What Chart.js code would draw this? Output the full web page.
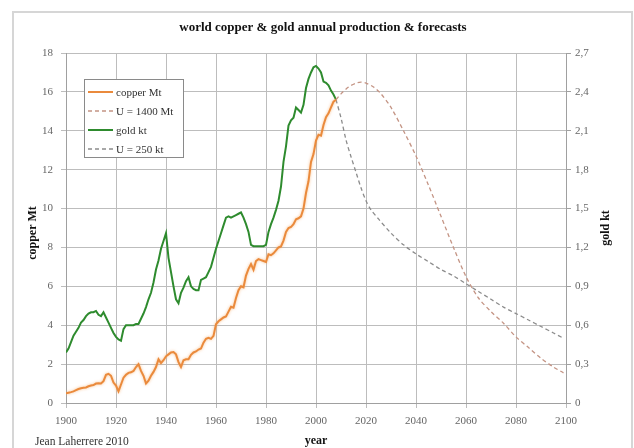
<!DOCTYPE html>
<html>
<head>
<meta charset="utf-8">
<script src="https://cdn.jsdelivr.net/npm/chart.js@4/dist/chart.umd.min.js"></script>
<style>
  html, body { margin: 0; padding: 0; background: #ffffff; }
  #wrap { width: 634px; height: 448px; position: relative; }
</style>
</head>
<body>
<div id="wrap"><canvas id="c" width="634" height="448"></canvas></div>
<script>
// Historical years (annual)
const years = [
  1900,1901,1902,1903,1904,1905,1906,1907,1908,1909,
  1910,1911,1912,1913,1914,1915,1916,1917,1918,1919,
  1920,1921,1922,1923,1924,1925,1926,1927,1928,1929,
  1930,1931,1932,1933,1934,1935,1936,1937,1938,1939,
  1940,1941,1942,1943,1944,1945,1946,1947,1948,1949,
  1950,1951,1952,1953,1954,1955,1956,1957,1958,1959,
  1960,1961,1962,1963,1964,1965,1966,1967,1968,1969,
  1970,1971,1972,1973,1974,1975,1976,1977,1978,1979,
  1980,1981,1982,1983,1984,1985,1986,1987,1988,1989,
  1990,1991,1992,1993,1994,1995,1996,1997,1998,1999,
  2000,2001,2002,2003,2004,2005,2006,2007,2008
];

// World copper mine production, Mt
const copperMt = [
  0.50,0.53,0.56,0.60,0.66,0.72,0.76,0.78,0.80,0.86,
  0.90,0.92,1.00,1.02,1.00,1.12,1.45,1.50,1.40,1.05,
  0.90,0.60,0.95,1.30,1.45,1.55,1.58,1.65,1.85,2.00,
  1.65,1.40,1.00,1.15,1.40,1.60,1.85,2.25,2.05,2.20,
  2.40,2.50,2.60,2.62,2.50,2.10,1.85,2.20,2.25,2.25,
  2.48,2.60,2.65,2.75,2.80,3.10,3.30,3.35,3.30,3.45,
  4.05,4.20,4.30,4.40,4.45,4.70,4.95,4.90,5.40,5.80,
  6.00,5.95,6.55,6.90,7.15,6.85,7.30,7.40,7.35,7.30,
  7.25,7.65,7.60,7.70,7.85,8.00,8.05,8.35,8.80,9.00,
  9.05,9.20,9.45,9.50,9.60,10.00,10.80,11.40,12.40,12.80,
  13.50,13.80,13.75,14.30,14.70,14.90,15.20,15.50,15.60
];

// World gold mine production, kt
const goldKt = [
  0.39,0.42,0.47,0.52,0.55,0.58,0.62,0.64,0.67,0.69,
  0.70,0.70,0.71,0.68,0.67,0.70,0.66,0.62,0.58,0.54,
  0.51,0.49,0.48,0.57,0.60,0.60,0.60,0.60,0.61,0.61,
  0.65,0.69,0.74,0.80,0.85,0.93,1.03,1.10,1.19,1.25,
  1.31,1.12,1.01,0.90,0.80,0.77,0.85,0.89,0.94,0.97,
  0.90,0.88,0.87,0.87,0.95,0.96,0.97,1.01,1.05,1.12,
  1.19,1.25,1.31,1.37,1.43,1.44,1.43,1.44,1.45,1.46,
  1.47,1.43,1.38,1.32,1.22,1.21,1.21,1.21,1.21,1.21,
  1.22,1.32,1.38,1.43,1.49,1.56,1.67,1.86,1.98,2.14,
  2.18,2.20,2.28,2.26,2.24,2.30,2.43,2.50,2.55,2.59,
  2.60,2.58,2.55,2.48,2.47,2.45,2.41,2.38,2.34
];

// Copper forecast, ultimate 1400 Mt
const copperForecastYears = [2008,2010,2013,2016,2018,2020,2023,2026,2030,2035,2040,2045,2050,2055,2060,2065,2070,2075,2080,2085,2090,2095,2099];
const copperForecastMt   = [15.6,15.9,16.25,16.45,16.5,16.45,16.25,15.9,15.2,14.0,12.7,11.2,9.6,8.0,6.5,5.4,4.7,4.1,3.4,2.85,2.3,1.85,1.55];

// Gold forecast, ultimate 250 kt
const goldForecastYears = [2008,2010,2012,2014,2016,2018,2020,2022,2025,2030,2035,2040,2045,2050,2055,2060,2065,2070,2075,2080,2085,2090,2095,2099];
const goldForecastKt   = [2.34,2.20,2.03,1.90,1.78,1.66,1.56,1.49,1.42,1.31,1.22,1.15,1.09,1.03,0.98,0.92,0.86,0.80,0.74,0.69,0.64,0.59,0.54,0.50];

// Axis tick labels
const yearTicks = ['1900','1920','1940','1960','1980','2000','2020','2040','2060','2080','2100'];
const copperTicks = ['0','2','4','6','8','10','12','14','16','18'];
const goldTicks = ['0','0,3','0,6','0,9','1,2','1,5','1,8','2,1','2,4','2,7'];

const SERIF = '"Liberation Serif", "Times New Roman", Times, serif';

function pts(xs, ys) { return xs.map((x, i) => ({ x: x, y: ys[i] })); }

// Frame, title, axis titles and credit line
const decorations = {
  id: 'decorations',
  beforeDraw(chart) {
    const ctx = chart.ctx;
    ctx.save();
    ctx.fillStyle = '#ffffff';
    ctx.fillRect(0, 0, chart.width, chart.height);
    ctx.strokeStyle = '#d6d6d6';
    ctx.lineWidth = 2;
    ctx.strokeRect(13, 12, 619, 460);
    ctx.restore();
  },
  afterDraw(chart) {
    const ctx = chart.ctx;
    ctx.save();
    ctx.fillStyle = '#111';
    ctx.textAlign = 'center';
    ctx.textBaseline = 'middle';
    ctx.font = 'bold 13px ' + SERIF;
    ctx.fillText('world copper & gold annual production & forecasts', 323, 28);

    ctx.font = 'bold 12px ' + SERIF;
    ctx.fillText('year', 316, 441);

    ctx.save();
    ctx.translate(33, 233);
    ctx.rotate(-Math.PI / 2);
    ctx.fillText('copper Mt', 0, 0);
    ctx.restore();

    ctx.save();
    ctx.translate(606, 228);
    ctx.rotate(-Math.PI / 2);
    ctx.fillText('gold kt', 0, 0);
    ctx.restore();

    ctx.font = '11.5px ' + SERIF;
    ctx.fillStyle = '#333';
    ctx.textAlign = 'left';
    ctx.fillText('Jean Laherrere 2010', 35, 442);
    ctx.restore();
  }
};

// Soft halo under the copper history line
const copperGlow = {
  id: 'copperGlow',
  beforeDatasetDraw(chart, args) {
    if (args.index === 0) {
      chart.ctx.save();
      chart.ctx.shadowColor = 'rgba(245,170,100,0.75)';
      chart.ctx.shadowBlur = 3;
    }
  },
  afterDatasetDraw(chart, args) {
    if (args.index === 0) chart.ctx.restore();
  }
};

// Boxed legend inside the plot
const boxLegend = {
  id: 'boxLegend',
  afterDatasetsDraw(chart) {
    const ctx = chart.ctx;
    const x0 = 84, y0 = 79, w = 99, h = 78;
    ctx.save();
    ctx.fillStyle = '#ffffff';
    ctx.fillRect(x0, y0, w, h);
    ctx.strokeStyle = '#8a8a8a';
    ctx.lineWidth = 1;
    ctx.strokeRect(x0 + 0.5, y0 + 0.5, w, h);
    ctx.font = '11px ' + SERIF;
    ctx.textBaseline = 'middle';
    ctx.textAlign = 'left';
    chart.data.datasets.forEach((ds, i) => {
      const y = y0 + 13 + i * 19;
      ctx.save();
      ctx.strokeStyle = ds.borderColor;
      ctx.lineWidth = ds.borderWidth;
      ctx.setLineDash(ds.borderDash || []);
      ctx.beginPath();
      ctx.moveTo(x0 + 4, y);
      ctx.lineTo(x0 + 29, y);
      ctx.stroke();
      ctx.restore();
      ctx.fillStyle = '#333';
      ctx.fillText(ds.label, x0 + 32, y + 1);
    });
    ctx.restore();
  }
};

new Chart(document.getElementById('c'), {
  type: 'line',
  data: {
    datasets: [
      { label: 'copper Mt', data: pts(years, copperMt), yAxisID: 'y',
        borderColor: '#ea8a3c', borderWidth: 2, pointRadius: 0, tension: 0 },
      { label: 'U = 1400 Mt', data: pts(copperForecastYears, copperForecastMt), yAxisID: 'y',
        borderColor: '#c49484', borderWidth: 1.3, borderDash: [4, 3], pointRadius: 0, tension: 0.3 },
      { label: 'gold kt', data: pts(years, goldKt), yAxisID: 'y1',
        borderColor: '#2e8b2e', borderWidth: 2, pointRadius: 0, tension: 0 },
      { label: 'U = 250 kt', data: pts(goldForecastYears, goldForecastKt), yAxisID: 'y1',
        borderColor: '#8c8c8c', borderWidth: 1.3, borderDash: [4, 3], pointRadius: 0, tension: 0.3 }
    ]
  },
  options: {
    responsive: false,
    animation: false,
    devicePixelRatio: 1,
    layout: { padding: { top: 53, left: 0, right: 0, bottom: 0 } },
    plugins: { legend: { display: false }, tooltip: { enabled: false }, title: { display: false } },
    scales: {
      x: {
        type: 'linear', min: 1900, max: 2100,
        afterFit(s) { s.height = 45; },
        afterBuildTicks(s) { s.ticks = yearTicks.map(t => ({ value: Number(t) })); },
        ticks: { callback: (v, i) => yearTicks[i], color: '#666', font: { family: SERIF, size: 11 }, padding: 7, maxRotation: 0 },
        grid: { color: '#bdbdbd', lineWidth: 1, tickLength: 5 },
        border: { color: '#a0a0a0' }
      },
      y: {
        position: 'left', min: 0, max: 18,
        afterFit(s) { s.width = 66; },
        afterBuildTicks(s) { s.ticks = copperTicks.map(t => ({ value: Number(t) })); },
        ticks: { callback: (v, i) => copperTicks[i], color: '#666', font: { family: SERIF, size: 11 }, padding: 8 },
        grid: { color: '#bdbdbd', lineWidth: 1, tickLength: 5 },
        border: { color: '#a0a0a0' }
      },
      y1: {
        position: 'right', min: 0, max: 2.7,
        afterFit(s) { s.width = 68; },
        afterBuildTicks(s) { s.ticks = goldTicks.map(t => ({ value: Number(t.replace(',', '.')) })); },
        ticks: { callback: (v, i) => goldTicks[i], color: '#666', font: { family: SERIF, size: 11 }, padding: 4 },
        grid: { drawOnChartArea: false, color: '#a0a0a0', tickLength: 5 },
        border: { color: '#a0a0a0' }
      }
    }
  },
  plugins: [decorations, copperGlow, boxLegend]
});
</script>
</body>
</html>
